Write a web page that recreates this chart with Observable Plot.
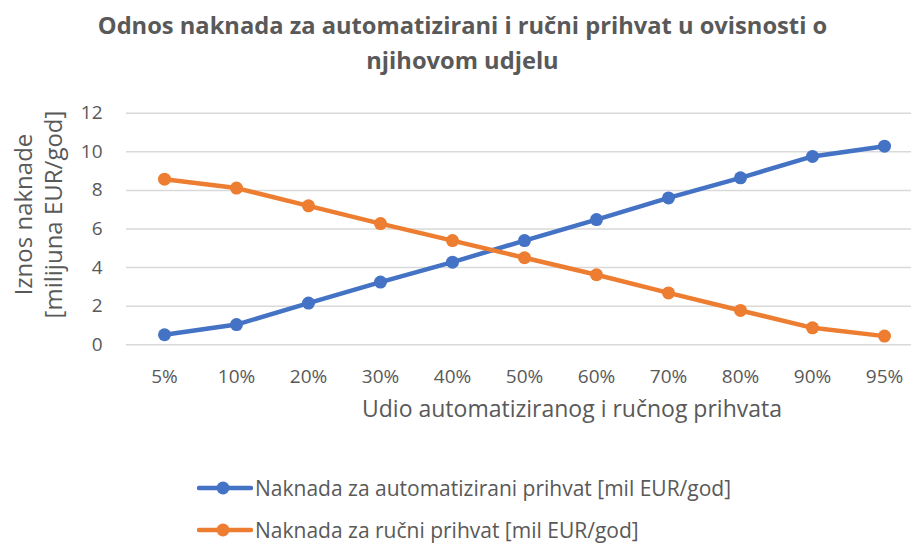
<!DOCTYPE html>
<html>
<head>
<meta charset="utf-8">
<script src="https://cdn.jsdelivr.net/npm/d3@7"></script>
<script src="https://cdn.jsdelivr.net/npm/@observablehq/plot@0.6"></script>
<style>
  html, body { margin: 0; padding: 0; background: #fff; }
  body { width: 911px; height: 543px; overflow: hidden; font-family: "Open Sans", Lato, sans-serif; color: #595959; }
  #title { box-sizing: border-box; height: 78px; padding-top: 8px; padding-left: 14px; text-align: center; font-weight: bold; font-size: 23.7px; line-height: 35px; color: #595959; white-space: nowrap; }
  #legend { position: relative; height: 105px; font-size: 21px; color: #595959; }
  .item { position: absolute; left: 197px; display: flex; align-items: center; height: 20px; white-space: nowrap; }
  .item svg { margin-right: 2px; flex: none; }
</style>
</head>
<body>
<div id="title">Odnos naknada za automatizirani i ručni prihvat u ovisnosti o<br>njihovom udjelu</div>
<div id="chart"></div>
<div id="legend"></div>
<script>
const categories = ["5%", "10%", "20%", "30%", "40%", "50%", "60%", "70%", "80%", "90%", "95%"];
const automatizirani = [0.52, 1.05, 2.16, 3.25, 4.28, 5.40, 6.49, 7.61, 8.65, 9.76, 10.29];
const rucni = [8.58, 8.12, 7.20, 6.28, 5.40, 4.51, 3.63, 2.69, 1.78, 0.88, 0.45];
const seriesNames = ["Naknada za automatizirani prihvat [mil EUR/god]", "Naknada za ručni prihvat [mil EUR/god]"];
const colors = ["#4472C4", "#ED7D31"];
const yTicks = [0, 2, 4, 6, 8, 10, 12];

const data = [];
categories.forEach((c, i) => {
  data.push({cat: c, value: automatizirani[i], series: seriesNames[0]});
  data.push({cat: c, value: rucni[i], series: seriesNames[1]});
});

const W = 911, H = 360, mL = 126, mR = 0, mT = 34.7, mB = 93.7;
const step = 72.4;

const chart = Plot.plot({
  width: W,
  height: H,
  marginLeft: mL,
  marginRight: mR,
  marginTop: mT,
  marginBottom: mB,
  style: {fontFamily: "'Open Sans', Lato, sans-serif", fontSize: "19px", color: "#595959", background: "#fff", overflow: "visible"},
  x: {type: "point", domain: categories, range: [mL, mL + step * 11], padding: 0.5, label: null},
  y: {domain: [0, 12], ticks: yTicks, label: null},
  color: {domain: seriesNames, range: colors},
  marks: [
    Plot.ruleY(yTicks, {stroke: "#D9D9D9", strokeWidth: 1.5}),
    Plot.axisY({ticks: yTicks, tickSize: 0, tickPadding: 24, fontSize: 19, fill: "#595959", label: null}),
    Plot.axisX({tickSize: 0, tickPadding: 25, fontSize: 19, fill: "#595959", label: null}),
    Plot.line(data, {x: "cat", y: "value", z: "series", stroke: "series", strokeWidth: 4.5, strokeLinejoin: "round", strokeLinecap: "round"}),
    Plot.dot(data, {x: "cat", y: "value", fill: "series", r: 6.5}),
    Plot.text(["Udio automatiziranog i ručnog prihvata"], {frameAnchor: "bottom", dy: 72, dx: 53, fontSize: 23, fill: "#595959"}),
    Plot.text(["Iznos naknade\n[milijuna EUR/god]"], {frameAnchor: "left", textAnchor: "middle", dx: -89, dy: -14.5, rotate: -90, fontSize: 24, lineHeight: 1.25, fill: "#595959"})
  ]
});
document.getElementById("chart").appendChild(chart);

const legend = document.getElementById("legend");
seriesNames.forEach((name, i) => {
  const div = document.createElement("div");
  div.className = "item";
  div.style.top = (i === 0 ? 40 : 82) + "px";
  div.innerHTML = `<svg width="56" height="20"><line x1="2" y1="10" x2="54" y2="10" stroke="${colors[i]}" stroke-width="4.5" stroke-linecap="round"/><circle cx="26" cy="10" r="6.5" fill="${colors[i]}"/></svg><span>${name}</span>`;
  legend.appendChild(div);
});
</script>
</body>
</html>
